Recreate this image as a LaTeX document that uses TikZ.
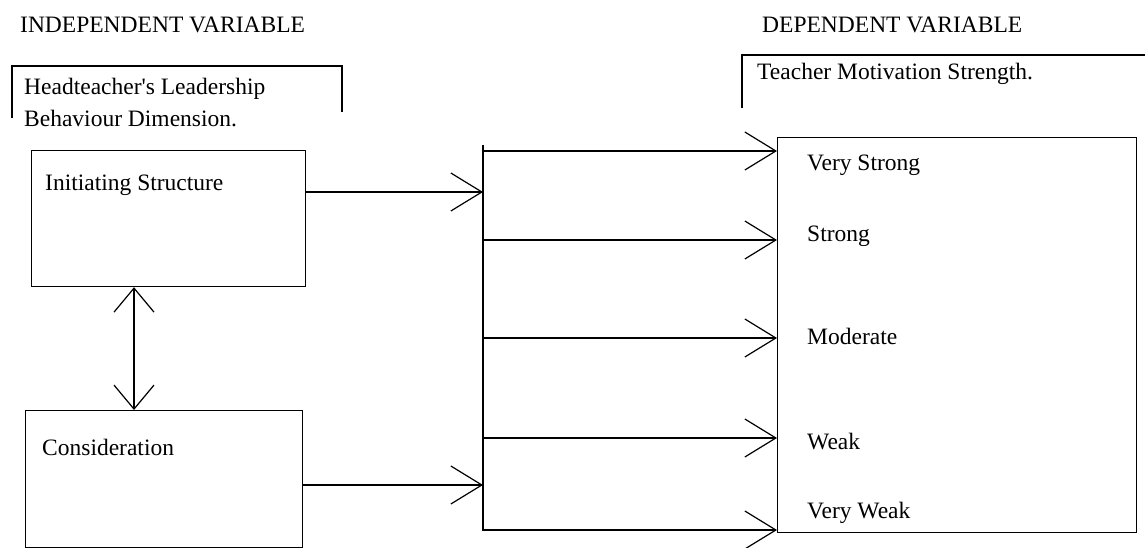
\documentclass[tikz,border=0pt]{standalone}
\usepackage{fontspec}
\setmainfont{Liberation Serif}
\usetikzlibrary{arrows.meta,positioning}
\tikzset{box/.style={draw,line width=1.2pt,anchor=north west,inner sep=0pt},
  lbl/.style={anchor=base west,inner sep=0pt,font=\fontsize{23.5}{32}\selectfont},
  arr/.style={-{Straight Barb[length=31pt,width=38pt]},line width=1.2pt},
  biarr/.style={{Straight Barb[length=24pt,width=40pt]}-{Straight Barb[length=24pt,width=40pt]},line width=1.2pt},
  rule/.style={line width=1.2pt}}

\begin{document}
\begin{tikzpicture}[x=1pt,y=-1pt]
    \useasboundingbox (0,0) rectangle (1145,548);
    % headings
    \node[lbl] (indep) at (20,33) {INDEPENDENT VARIABLE};
    \node[lbl] (dep) at (762,33) {DEPENDENT VARIABLE};
    \draw[rule] (12,118) -- (12,66) -- (342,66) -- (342,112);
    \node[lbl] (lead1) at (24,95) {Headteacher\textquotesingle s Leadership};
    \node[lbl] (lead2) at (24,127) {Behaviour Dimension.};
    \draw[rule] (742,108) -- (742,55) -- (1145,55);
    \node[lbl] (motiv) at (757,80) {Teacher Motivation Strength.};
    % left boxes
    \node[box,minimum width=274,minimum height=136] (init) at (31,150) {};
    \node[lbl] at (45,190) {Initiating Structure};
    \node[box,minimum width=277,minimum height=137] (cons) at (25,410) {};
    \node[lbl] at (42,455) {Consideration};
    \draw[biarr] (init.south -| 134,0) -- (cons.north -| 134,0);
    % bus
    \coordinate (bustop) at (483,145);
    \coordinate (busbot) at (483,531);
    \draw[rule] (bustop) -- (busbot);
    \coordinate (ia) at (483,192);
    \coordinate (ca) at (483,485);
    \draw[arr] (ia -| init.east) -- (ia);
    \draw[arr] (ca -| cons.east) -- (ca);
    % right box
    \node[box,minimum width=359,minimum height=395] (strength) at (777,137) {};
    \node[lbl] at (807,171) {Very Strong};
    \node[lbl] at (807,241) {Strong};
    \node[lbl] at (807,344) {Moderate};
    \node[lbl] at (807,449) {Weak};
    \node[lbl] at (807,518) {Very Weak};
    \foreach \y/\n in {151/vs,240/st,338/mo,438/wk,530/vw}{
      \coordinate (b\n) at (483,\y);
      \draw[arr] (b\n) -- (b\n -| strength.west);
    }
  \end{tikzpicture}
\end{document}
